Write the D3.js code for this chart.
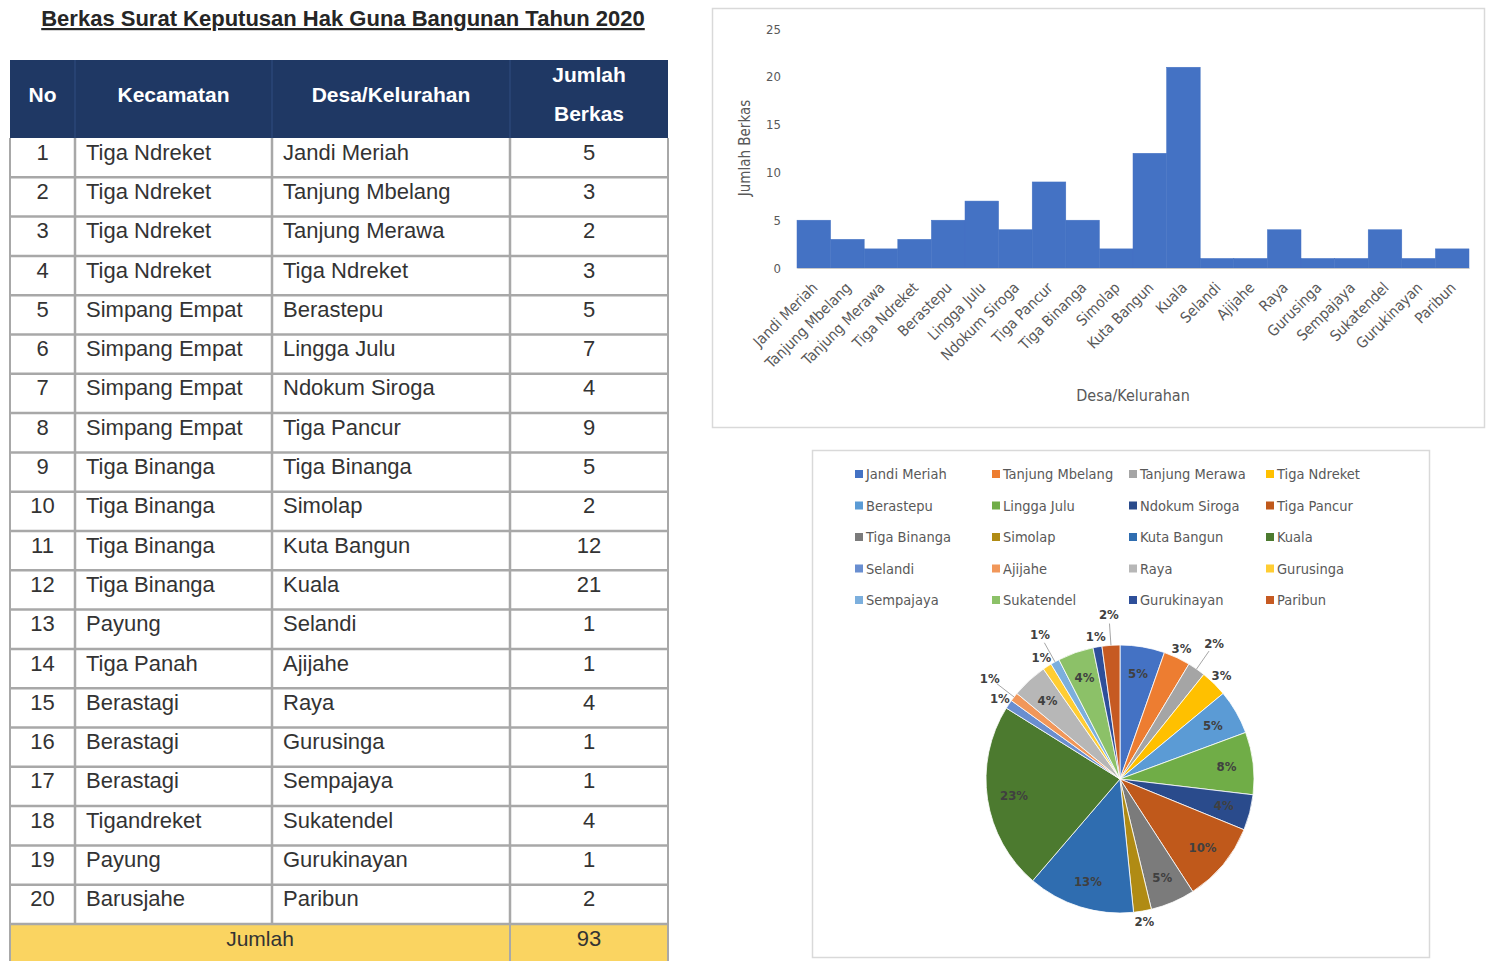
<!DOCTYPE html>
<html>
<head>
<meta charset="utf-8">
<script src="https://cdn.jsdelivr.net/npm/d3@7"></script>
<style>
  body { margin: 0; background: #fff; }
  svg { display: block; }
</style>
</head>
<body>
<svg id="canvas" width="1486" height="961"></svg>
<script>
// ---- Data ----
const judul = "Berkas Surat Keputusan Hak Guna Bangunan Tahun 2020";
const kolom = ["No", "Kecamatan", "Desa/Kelurahan", "Jumlah Berkas"];
const nomor = [1, 2, 3, 4, 5, 6, 7, 8, 9, 10, 11, 12, 13, 14, 15, 16, 17, 18, 19, 20];
const kecamatan = [
  "Tiga Ndreket", "Tiga Ndreket", "Tiga Ndreket", "Tiga Ndreket",
  "Simpang Empat", "Simpang Empat", "Simpang Empat", "Simpang Empat",
  "Tiga Binanga", "Tiga Binanga", "Tiga Binanga", "Tiga Binanga",
  "Payung", "Tiga Panah", "Berastagi", "Berastagi", "Berastagi",
  "Tigandreket", "Payung", "Barusjahe"
];
const desa = [
  "Jandi Meriah", "Tanjung Mbelang", "Tanjung Merawa", "Tiga Ndreket",
  "Berastepu", "Lingga Julu", "Ndokum Siroga", "Tiga Pancur",
  "Tiga Binanga", "Simolap", "Kuta Bangun", "Kuala",
  "Selandi", "Ajijahe", "Raya", "Gurusinga",
  "Sempajaya", "Sukatendel", "Gurukinayan", "Paribun"
];
const jumlahBerkas = [5, 3, 2, 3, 5, 7, 4, 9, 5, 2, 12, 21, 1, 1, 4, 1, 1, 4, 1, 2];
const yTicks = [0, 5, 10, 15, 20, 25];
const judulSumbuY = "Jumlah Berkas";
const judulSumbuX = "Desa/Kelurahan";
const labelTotal = "Jumlah";

// Slice palette (Office theme, 20 series)
const warnaIris = [
  "#4472C4", "#ED7D31", "#A5A5A5", "#FFC000", "#5B9BD5", "#70AD47",
  "#2A4B8C", "#C0591B", "#7B7B7B", "#B08B14", "#2F6DB0", "#4C7A2F",
  "#698ED0", "#F1975A", "#B7B7B7", "#FFCD33", "#7CAFDD", "#8CC168",
  "#2E4F9A", "#C65A22"
];

const svg = d3.select("#canvas");
const fontTable = "'Liberation Sans', Arial, sans-serif";
const fontChart = "'Liberation Sans Narrow', 'DejaVu Sans Condensed', 'Liberation Sans', sans-serif";

// ---- Title ----
svg.append("text")
  .attr("x", 343).attr("y", 26)
  .attr("text-anchor", "middle")
  .attr("font-family", fontTable)
  .attr("font-weight", "bold")
  .attr("font-size", 22)
  .attr("fill", "#262626")
  .attr("text-decoration", "underline")
  .text(judul);

// ---- Table ----
const tbl = svg.append("g");
const colEdges = [10, 75, 272, 510, 668];
const headTop = 60, headBottom = 138, rowsBottom = 924, tblBottom = 961;
const rowScale = d3.scaleBand().domain(nomor).range([headBottom, rowsBottom]);

// header
tbl.append("rect")
  .attr("x", colEdges[0]).attr("y", headTop)
  .attr("width", colEdges[4] - colEdges[0]).attr("height", headBottom - headTop)
  .attr("fill", "#1F3864");
const headCenters = [42.5, 173.5, 391, 589];
kolom.forEach((k, i) => {
  const lines = i === 3 ? k.split(" ") : [k];
  lines.forEach((ln, j) => {
    tbl.append("text")
      .attr("x", headCenters[i])
      .attr("y", lines.length === 1 ? 102 : 82 + j * 39)
      .attr("text-anchor", "middle")
      .attr("font-family", fontTable)
      .attr("font-weight", "bold")
      .attr("font-size", 21)
      .attr("fill", "#ffffff")
      .text(ln);
  });
});
[75, 272, 510].forEach(x => {
  tbl.append("line").attr("x1", x).attr("x2", x).attr("y1", headTop).attr("y2", headBottom)
    .attr("stroke", "#2b4677").attr("stroke-width", 1.5);
});

// body rows
const rowG = tbl.selectAll("g.row").data(nomor).join("g")
  .attr("class", "row")
  .attr("transform", d => `translate(0,${rowScale(d)})`);
const bh = rowScale.bandwidth();
rowG.append("text").attr("x", 42.5).attr("y", bh / 2 + 2).attr("text-anchor", "middle")
  .text(d => d);
rowG.append("text").attr("x", 86).attr("y", bh / 2 + 2)
  .text((d, i) => kecamatan[i]);
rowG.append("text").attr("x", 283).attr("y", bh / 2 + 2)
  .text((d, i) => desa[i]);
rowG.append("text").attr("x", 589).attr("y", bh / 2 + 2).attr("text-anchor", "middle")
  .text((d, i) => jumlahBerkas[i]);
rowG.selectAll("text")
  .attr("font-family", fontTable)
  .attr("font-size", 22)
  .attr("fill", "#333333");

// total row
tbl.append("rect")
  .attr("x", colEdges[0]).attr("y", rowsBottom)
  .attr("width", colEdges[4] - colEdges[0]).attr("height", tblBottom - rowsBottom)
  .attr("fill", "#FAD461");
tbl.append("text").attr("x", 260).attr("y", rowsBottom + 22)
  .attr("text-anchor", "middle").attr("font-family", fontTable).attr("font-size", 21)
  .attr("fill", "#333").text(labelTotal);
tbl.append("text").attr("x", 589).attr("y", rowsBottom + 22)
  .attr("text-anchor", "middle").attr("font-family", fontTable).attr("font-size", 22)
  .attr("fill", "#333").text(d3.sum(jumlahBerkas));

// grid lines
nomor.forEach(d => {
  tbl.append("line").attr("x1", colEdges[0]).attr("x2", colEdges[4])
    .attr("y1", rowScale(d) + bh).attr("y2", rowScale(d) + bh)
    .attr("stroke", "#a8a8a8").attr("stroke-width", 2.5);
});
[75, 272, 510].forEach(x => {
  tbl.append("line").attr("x1", x).attr("x2", x).attr("y1", headBottom).attr("y2", rowsBottom)
    .attr("stroke", "#a8a8a8").attr("stroke-width", 2.5);
});
tbl.append("line").attr("x1", 510).attr("x2", 510).attr("y1", rowsBottom).attr("y2", tblBottom)
  .attr("stroke", "#a8a8a8").attr("stroke-width", 2);
[colEdges[0], colEdges[4]].forEach(x => {
  tbl.append("line").attr("x1", x).attr("x2", x).attr("y1", headBottom).attr("y2", tblBottom)
    .attr("stroke", "#a8a8a8").attr("stroke-width", 2);
});

// ---- Bar chart ----
const bar = svg.append("g");
bar.append("rect").attr("x", 712.5).attr("y", 8.5).attr("width", 772).attr("height", 419)
  .attr("fill", "#fff").attr("stroke", "#d9d9d9").attr("stroke-width", 1.5);

const xB = d3.scaleBand().domain(desa).range([797, 1469]).padding(0);
const yB = d3.scaleLinear().domain([0, 25]).range([268, 29]);

bar.selectAll("rect.bar").data(jumlahBerkas).join("rect")
  .attr("class", "bar")
  .attr("x", (d, i) => xB(desa[i]))
  .attr("width", xB.bandwidth())
  .attr("y", d => yB(d))
  .attr("height", d => yB(0) - yB(d))
  .attr("fill", "#4472C4")
  .attr("stroke", "#4472C4")
  .attr("stroke-width", 0.5);

const yAxis = d3.axisLeft(yB).tickValues(yTicks).tickSize(0).tickPadding(16);
bar.append("g").attr("transform", "translate(797,0)").call(yAxis)
  .call(g => g.select(".domain").remove())
  .call(g => g.selectAll("text").attr("font-family", fontChart).attr("font-size", 13).attr("fill", "#595959"));

const xAxis = d3.axisBottom(xB).tickSize(0);
bar.append("g").attr("transform", "translate(0,268)").call(xAxis)
  .call(g => g.select(".domain").attr("stroke", "#c8c8c8").attr("stroke-width", 1.2))
  .call(g => g.selectAll("text")
    .attr("font-family", fontChart).attr("font-size", 15).attr("fill", "#595959")
    .attr("text-anchor", "end")
    .attr("x", 0).attr("y", 0).attr("dy", "0.35em")
    .attr("transform", "translate(1,17) rotate(-45)"));

bar.append("text")
  .attr("transform", "translate(750,148) rotate(-90)")
  .attr("text-anchor", "middle")
  .attr("font-family", fontChart).attr("font-size", 15).attr("fill", "#595959")
  .text(judulSumbuY);
bar.append("text")
  .attr("x", 1133).attr("y", 401)
  .attr("text-anchor", "middle")
  .attr("font-family", fontChart).attr("font-size", 16).attr("fill", "#595959")
  .text(judulSumbuX);

// ---- Pie chart ----
const pieG = svg.append("g");
pieG.append("rect").attr("x", 812.5).attr("y", 450.5).attr("width", 617).attr("height", 507)
  .attr("fill", "#fff").attr("stroke", "#d9d9d9").attr("stroke-width", 1.5);

// legend, 4 columns
const leg = pieG.selectAll("g.leg").data(desa).join("g")
  .attr("class", "leg")
  .attr("transform", (d, i) => `translate(${855 + (i % 4) * 137},${474 + Math.floor(i / 4) * 31.5})`);
leg.append("rect").attr("x", 0).attr("y", -4).attr("width", 8).attr("height", 8)
  .attr("fill", (d, i) => warnaIris[i]);
leg.append("text").attr("x", 11).attr("y", 5)
  .attr("font-family", fontChart).attr("font-size", 14.5).attr("fill", "#595959")
  .text(d => d);

const cx = 1120, cy = 779, r = 134;
const total = d3.sum(jumlahBerkas);
const pie = d3.pie().sort(null).value(d => d);
const arcs = pie(jumlahBerkas);
const arc = d3.arc().innerRadius(0).outerRadius(r);
const pg = pieG.append("g").attr("transform", `translate(${cx},${cy})`);
pg.selectAll("path").data(arcs).join("path")
  .attr("d", arc)
  .attr("fill", (d, i) => warnaIris[i])
  .attr("stroke", "#fff").attr("stroke-width", 0.8);

const fmt = v => Math.round(v / total * 100) + "%";
const inArc = d3.arc().innerRadius(r * 0.8).outerRadius(r * 0.8);
const labelFont = g => g.attr("font-family", fontChart).attr("font-size", 13)
  .attr("font-weight", "bold").attr("fill", "#404040").attr("text-anchor", "middle");

// inside labels for larger slices
pg.selectAll("text.in").data(arcs.filter(a => a.value >= 4)).join("text")
  .attr("class", "in")
  .attr("transform", d => `translate(${inArc.centroid(d)})`)
  .attr("dy", "0.35em")
  .text(d => fmt(d.value))
  .call(labelFont);

// outside labels for small slices, pushed outward when crowded
let prev = null;
arcs.filter(a => a.value < 4).forEach(a => {
  const ang = (a.startAngle + a.endAngle) / 2;
  let R = r * 1.08;
  let p = [Math.sin(ang) * R, -Math.cos(ang) * R];
  let far = false;
  if (prev && Math.hypot(p[0] - prev[0], p[1] - prev[1]) < 26) {
    R = r * 1.23; far = true;
    p = [Math.sin(ang) * R, -Math.cos(ang) * R];
  }
  if (far) {
    pg.append("line")
      .attr("x1", Math.sin(ang) * r).attr("y1", -Math.cos(ang) * r)
      .attr("x2", Math.sin(ang) * (R - 9)).attr("y2", -Math.cos(ang) * (R - 9))
      .attr("stroke", "#a6a6a6").attr("stroke-width", 1);
  }
  pg.append("text").attr("x", p[0]).attr("y", p[1]).attr("dy", "0.35em")
    .text(fmt(a.value)).call(labelFont);
  prev = p;
});
</script>
</body>
</html>
